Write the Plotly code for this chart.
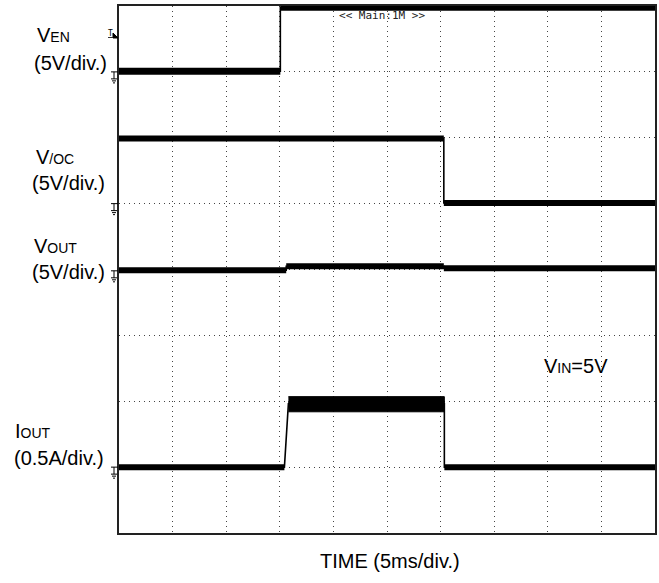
import plotly.graph_objects as go

# scope capture, 5 ms/div horizontally, 8 vertical divisions
t_ven = [0, 15.05, 15.05, 50]
v_en = [0.05, 0.05, 4.9, 4.9]

t_voc = [0, 30.3, 30.3, 50]
v_oc = [4.95, 4.95, 0.05, 0.05]

t_vout = [0, 15.6, 15.6, 30.3, 30.3, 50]
v_out = [0.05, 0.05, 0.35, 0.35, 0.2, 0.2]

t_iout = [0, 15.43, 15.8, 30.35, 30.35, 50]
i_out = [0.0, 0.0, 0.48, 0.48, 0.0, 0.0]
# noisy envelope of the iout high level
t_iband = [15.8, 30.35]
i_band_hi = [0.535, 0.535]
i_band_lo = [0.42, 0.42]

# channel ground positions (divisions) and scale per division
channels = {
    "ven": (7.0, 5.0),
    "voc": (5.0, 5.0),
    "vout": (3.98, 5.0),
    "iout": (1.0, 0.5),
}

FONT = "Arial, Liberation Sans, sans-serif"
W, H = 659, 583
L, R, T, B = 119, 2, 6, 50
PW, PH = W - L - R, H - T - B


def to_div(vals, ch):
    off, sc = channels[ch]
    return [off + v / sc for v in vals]


def flat_parts(t, y):
    # only the horizontal pieces, they are drawn thick
    xs, ys = [], []
    for i in range(len(t) - 1):
        if y[i] == y[i + 1]:
            xs += [t[i], t[i + 1], None]
            ys += [y[i], y[i + 1], None]
    return xs, ys


fig = go.Figure()

waves = [
    (t_ven, to_div(v_en, "ven"), 7),
    (t_voc, to_div(v_oc, "voc"), 6),
    (t_vout, to_div(v_out, "vout"), 6),
    (t_iout, to_div(i_out, "iout"), 6),
]
for t, y, w in waves:
    fig.add_trace(go.Scatter(x=t, y=y, mode="lines",
                             line=dict(color="black", width=1.6)))
    fx, fy = flat_parts(t, y)
    fig.add_trace(go.Scatter(x=fx, y=fy, mode="lines",
                             line=dict(color="black", width=w)))

hi = to_div(i_band_hi, "iout")
lo = to_div(i_band_lo, "iout")
fig.add_trace(go.Scatter(x=t_iband + t_iband[::-1], y=hi + lo[::-1],
                         mode="lines", fill="toself", fillcolor="black",
                         line=dict(color="black", width=1)))

# ground markers at the left edge
for ch, (off, sc) in channels.items():
    fig.add_shape(type="path", xref="paper", yref="paper",
                  xsizemode="pixel", ysizemode="pixel",
                  xanchor=0, yanchor=off / 8,
                  path="M -8 0 L -1 0 M -5 0 L -5 -7 M -8 -7 L -2 -7 "
                       "M -7 -9 L -3 -9 M -6 -11 L -4 -11",
                  line=dict(color="black", width=1))

# trigger marker
fig.add_shape(type="path", xref="paper", yref="paper",
              xsizemode="pixel", ysizemode="pixel",
              xanchor=0, yanchor=7.56 / 8,
              path="M -6 2 L -1 -3 L -6 -3 Z",
              fillcolor="black", line=dict(color="black", width=1))


def px(x, y):
    # pixel -> paper coordinates
    return (x - L) / PW, (H - B - y) / PH


labels = [
    ("V<span style='font-size:14px'>EN</span>", 36, 34.5),
    ("(5V/div.)", 33, 63),
    ("V<span style='font-size:14px'>/OC</span>", 35, 157),
    ("(5V/div.)", 31, 183),
    ("V<span style='font-size:14px'>OUT</span>", 33, 246),
    ("(5V/div.)", 31, 272),
    ("I<span style='font-size:14px'>OUT</span>", 14, 431),
    ("(0.5A/div.)", 13, 458),
    ("V<span style='font-size:14px'>IN</span>=5V", 545, 366),
]
for txt, x, y in labels:
    ax, ay = px(x, y)
    fig.add_annotation(text=txt, xref="paper", yref="paper", x=ax, y=ay,
                       xanchor="left", yanchor="middle", showarrow=False,
                       borderpad=0, font=dict(family=FONT, size=20, color="black"))

ax, ay = px(391, 561)
fig.add_annotation(text="TIME (5ms/div.)", xref="paper", yref="paper", x=ax, y=ay,
                   xanchor="center", yanchor="middle", showarrow=False,
                   borderpad=0, font=dict(family=FONT, size=20, color="black"))

ax, ay = px(383, 15)
fig.add_annotation(text="<< Main:1M >>", xref="paper", yref="paper", x=ax, y=ay,
                   xanchor="center", yanchor="middle", showarrow=False,
                   borderpad=0, font=dict(family="DejaVu Sans Mono", size=11, color="#222"))

ax, ay = px(110, 34)
fig.add_annotation(text="<u>T</u>", xref="paper", yref="paper", x=ax, y=ay,
                   xanchor="center", yanchor="middle", showarrow=False,
                   borderpad=0, font=dict(family="DejaVu Sans Mono", size=8, color="black"))

axis_common = dict(showgrid=True, gridcolor="#444", gridwidth=1, griddash="1px,4px",
                   showticklabels=False, ticks="", zeroline=False,
                   showline=True, mirror=True, linecolor="#222", linewidth=1.5,
                   fixedrange=True)

fig.update_layout(
    width=W, height=H,
    margin=dict(l=L, r=R, t=T, b=B),
    paper_bgcolor="white", plot_bgcolor="white",
    showlegend=False,
    hovermode=False,
    xaxis=dict(range=[0, 50], dtick=5, **axis_common),
    yaxis=dict(range=[0, 8], dtick=1, **axis_common),
)

# drop the browser's default body margin so the figure sits at 0,0
fig.write_html("out.html", config={"displayModeBar": False},
               post_script="document.body.style.margin='0';document.body.style.overflow='hidden';")
